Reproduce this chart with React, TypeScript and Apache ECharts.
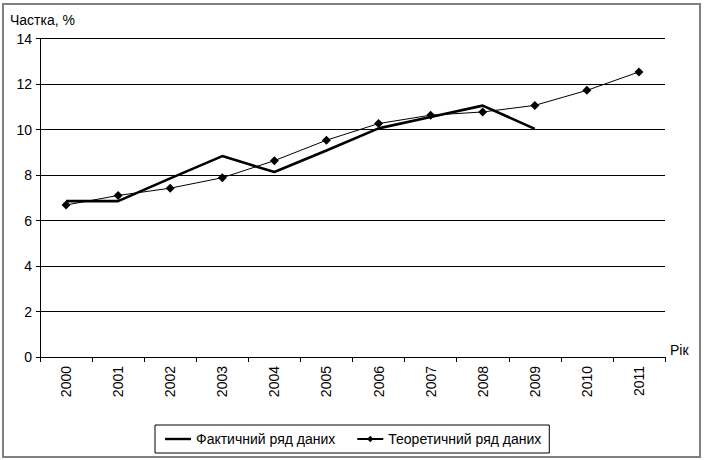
import React, { useEffect, useRef } from "react";
import * as echarts from "echarts";

const years = ["2000", "2001", "2002", "2003", "2004", "2005", "2006", "2007", "2008", "2009", "2010", "2011"];
const factual = [6.85, 6.85, 7.85, 8.83, 8.13, 9.08, 10.05, 10.55, 11.05, 10.03, null, null];
const theoretical = [6.68, 7.1, 7.42, 7.88, 8.63, 9.53, 10.26, 10.63, 10.77, 11.06, 11.72, 12.53];
const yTicks = { min: 0, max: 14, interval: 2 };
const seriesNames = ["Фактичний ряд даних", "Теоретичний ряд даних"];

const FONT = "Liberation Sans, Arial, sans-serif";

export default function App() {
  const ref = useRef<HTMLDivElement>(null);
  useEffect(() => {
    const chart = echarts.init(ref.current!, null, { renderer: "svg" });
    chart.setOption({
      animation: false,
      backgroundColor: "#ffffff",
      textStyle: { fontFamily: FONT, color: "#000" },
      grid: { left: 40, right: 41, top: 38.5, bottom: 103, containLabel: false },
      graphic: [
        {
          type: "rect",
          shape: { x: 3, y: 4, width: 697, height: 453 },
          style: { fill: "none", stroke: "#808080", lineWidth: 2 },
          silent: true,
        },
        {
          type: "text",
          x: 10,
          y: 20,
          style: { text: "Частка, %", fontFamily: FONT, fontSize: 14, fill: "#000", textVerticalAlign: "middle" },
        },
      ],
      legend: {
        left: 155,
        top: 425,
        orient: "horizontal",
        data: [
          { name: seriesNames[0], icon: "path://M0,0 L26,0 L26,2.4 L0,2.4 Z" },
          { name: seriesNames[1] },
        ],
        borderColor: "#000",
        borderWidth: 1,
        borderRadius: 0,
        padding: [7, 8, 7, 10],
        itemGap: 21,
        itemWidth: 26,
        itemHeight: 8,
        textStyle: { fontFamily: FONT, fontSize: 14, color: "#000" },
      },
      xAxis: {
        type: "category",
        data: years,
        boundaryGap: true,
        name: "Рік",
        nameLocation: "end",
        nameGap: 5,
        nameTextStyle: { fontFamily: FONT, fontSize: 14, color: "#000", verticalAlign: "bottom" },
        axisLine: { show: true, lineStyle: { color: "#000", width: 1 } },
        axisTick: { show: true, inside: false, length: 5, interval: 0, lineStyle: { color: "#000" } },
        axisLabel: { rotate: 90, interval: 0, margin: 9, fontFamily: FONT, fontSize: 14, color: "#000" },
        splitLine: { show: false },
      },
      yAxis: {
        type: "value",
        min: yTicks.min,
        max: yTicks.max,
        interval: yTicks.interval,
        axisLine: { show: true, lineStyle: { color: "#000", width: 1 } },
        axisTick: { show: true, inside: false, length: 4, lineStyle: { color: "#000" } },
        axisLabel: { margin: 8, fontFamily: FONT, fontSize: 14, color: "#000" },
        splitLine: { show: true, lineStyle: { color: "#000", width: 1 } },
      },
      series: [
        {
          name: seriesNames[0],
          type: "line",
          data: factual,
          symbol: "none",
          showSymbol: false,
          lineStyle: { color: "#000", width: 2.6 },
          itemStyle: { color: "#000" },
          z: 3,
        },
        {
          name: seriesNames[1],
          type: "line",
          data: theoretical,
          symbol: "diamond",
          symbolSize: 9,
          lineStyle: { color: "#000", width: 1 },
          itemStyle: { color: "#000" },
          z: 4,
        },
      ],
    });
    return () => chart.dispose();
  }, []);
  return <div ref={ref} style={{ position: "fixed", left: 0, top: 0, width: 706, height: 460 }} />;
}
